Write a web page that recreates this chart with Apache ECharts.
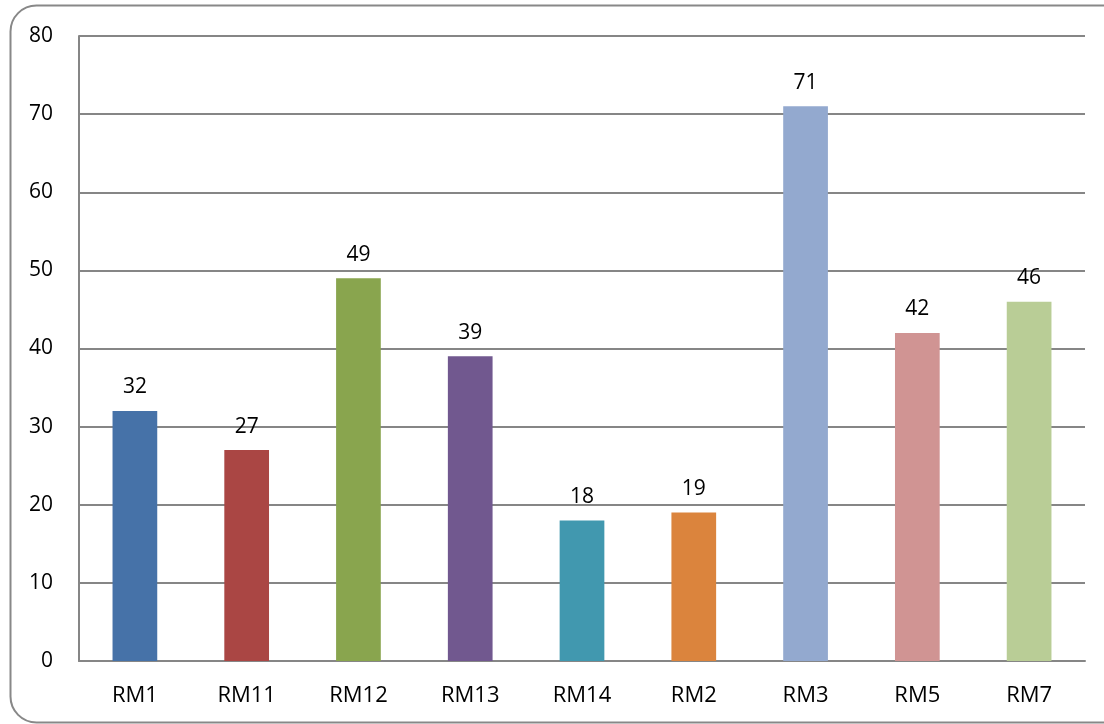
<!DOCTYPE html>
<html>
<head>
<meta charset="utf-8">
<script src="https://cdn.jsdelivr.net/npm/echarts@6/dist/echarts.min.js"></script>
<style>html,body{margin:0;padding:0;background:#fff}#c{width:1104px;height:724px}</style>
</head>
<body>
<div id="c"></div>
<script>
const categories = ['RM1','RM11','RM12','RM13','RM14','RM2','RM3','RM5','RM7'];
const values = [32, 27, 49, 39, 18, 19, 71, 42, 46];
const barColors = ['#4672A8','#AA4644','#89A54E','#71588F','#4198AF','#DB843D','#93A9CF','#D09493','#B9CD96'];
const yTicks = { min: 0, max: 80, interval: 10 };

const chart = echarts.init(document.getElementById('c'), null, {renderer: 'canvas'});
const font = '"Open Sans", "Liberation Sans", Arial, sans-serif';
chart.setOption({
  animation: false,
  backgroundColor: '#fff',
  graphic: [{
    type: 'rect',
    shape: {x: 10.5, y: 5.5, width: 1120, height: 717, r: 26},
    style: {fill: 'none', stroke: '#888', lineWidth: 2},
    z: -1
  }],
  grid: {left: 79, right: 19, top: 36, bottom: 63, containLabel: false},
  xAxis: {
    type: 'category',
    data: categories,
    axisLine: {show: true, lineStyle: {color: '#868686', width: 2}},
    axisTick: {show: false},
    axisLabel: {color: '#000', fontSize: 22, fontFamily: font, margin: 24}
  },
  yAxis: {
    type: 'value',
    min: yTicks.min, max: yTicks.max, interval: yTicks.interval,
    axisLine: {show: true, lineStyle: {color: '#868686', width: 2}},
    axisTick: {show: false},
    splitLine: {show: true, lineStyle: {color: '#868686', width: 2}},
    axisLabel: {color: '#000', fontSize: 21, fontFamily: font, margin: 26}
  },
  series: [{
    type: 'bar',
    data: values.map((v, i) => ({value: v, itemStyle: {color: barColors[i]}})),
    barWidth: '40%',
    label: {show: true, position: 'top', distance: 13, color: '#000', fontSize: 21, fontFamily: font}
  }]
});
</script>
</body>
</html>
